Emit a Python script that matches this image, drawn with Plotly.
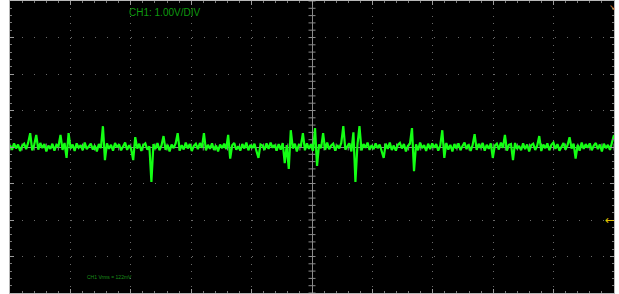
import numpy as np
import plotly.graph_objects as go

# CH1 samples in centivolts (0.01 V), read across the screen left -> right
ch1_cv = [
    5, -8, 10, -4, 7, -11, 3, 9, -6, 12, 38, -9, 6, 33, -7, 11, -3, 8, -12, 4,
    -5, 9, -10, 6, 2, 33, -8, 11, -30, 38, -4, 7, -11, 10, -2, 5, -9, 12, -6, 3,
    9, -7, 4, -12, 8, -3, 57, -36, 10, -5, 6, -10, 11, -1, 7, -9, 3, 12, -8, 5,
    -6, -36, 27, -4, 9, -11, 5, 10, -7, 2, -96, 8, -5, 11, -9, 4, 30, -8, 6, -12,
    7, -3, 10, 38, -10, 5, -7, 12, -4, 8, -11, 3, 9, -6, 11, -2, 38, -9, 6, -5,
    10, -8, 4, -12, 7, -3, 9, -6, 33, -32, 5, 11, -7, 2, -10, 8, -4, 12, -9, 6,
    -3, 9, -11, -30, 7, 4, -8, 10, -5, 12, -2, 6, -10, 8, -7, 11, -44, 5, -60, 46,
    -4, 9, -12, 6, 3, 38, -9, 10, -5, 8, -11, 52, -52, 7, -3, 38, -8, 12, -6, 4,
    9, -10, 5, -4, 11, 57, -7, 3, 10, -12, 40, -96, 6, 57, -9, 8, -2, 12, -8, 5,
    -6, 10, -3, 7, -11, -30, 9, -5, 12, -8, 4, -10, 6, 11, -4, 8, -12, 3, 9, 52,
    -66, 7, -9, 12, -3, 5, -11, 9, -6, 10, -2, 8, -10, 4, 46, -30, 11, -7, 6, -12,
    8, -4, 10, -9, 3, 12, -6, 7, -11, 5, 35, -8, 9, -3, 11, -10, 6, -5, 10, -30,
    4, 9, -7, 12, -2, 33, -10, 6, 8, -36, 11, -5, 3, -9, 10, -6, 7, -12, 5, 9,
    -8, 4, 30, -11, 7, -3, 10, -9, 6, 12, -5, 8, -10, 3, 11, -7, 5, 27, -4, 9,
    -32, 6, -10, 12, -5, 8, -2, 10, -9, 4, 11, -6, 7, -12, 9, -3, 6, -8, 10, 33,
]

h_divs = 10          # horizontal divisions
v_divs = 8           # vertical divisions
volts_per_div = 1.00
scale_label = "CH1: 1.00V/DIV"
meas_label = "CH1 Vrms = 122mV"
trigger_level_v = -2.0

volts = np.array(ch1_cv) / 100.0
t_div = np.linspace(-h_divs / 2, h_divs / 2, len(volts))

minor_x = np.arange(-h_divs / 2, h_divs / 2 + 1e-9, 0.2)
minor_y = np.arange(-v_divs / 2, v_divs / 2 + 1e-9, 0.2)

fig = go.Figure()

# centre graticule tick marks
fig.add_trace(go.Scatter(x=minor_x, y=np.zeros_like(minor_x), mode="markers",
                         marker=dict(symbol="line-ns", size=5,
                                     line=dict(color="#8a8a8a", width=1)),
                         hoverinfo="skip", showlegend=False))
fig.add_trace(go.Scatter(x=np.zeros_like(minor_y), y=minor_y, mode="markers",
                         marker=dict(symbol="line-ew", size=5,
                                     line=dict(color="#8a8a8a", width=1)),
                         hoverinfo="skip", showlegend=False))

# CH1 trace
fig.add_trace(go.Scatter(x=t_div, y=volts, mode="lines",
                         line=dict(color="#14ff14", width=2.2),
                         hoverinfo="skip", showlegend=False))

axis_common = dict(
    showticklabels=False,
    showline=True, linecolor="#b8b8b8", linewidth=1, mirror="ticks",
    ticks="inside", ticklen=4, tickcolor="#9a9a9a",
    zeroline=True, zerolinecolor="#8a8a8a", zerolinewidth=1,
    showgrid=True, gridcolor="#6a6a6a", gridwidth=1,
    minor=dict(ticks="inside", ticklen=2, tickcolor="#7a7a7a", showgrid=False),
    fixedrange=True,
)

fig.update_xaxes(**axis_common, range=[-h_divs / 2, h_divs / 2], dtick=1,
                 griddash="1px,6.3px")
fig.update_xaxes(minor_dtick=0.2)
fig.update_yaxes(**axis_common, range=[-v_divs / 2 * volts_per_div, v_divs / 2 * volts_per_div],
                 dtick=volts_per_div, griddash="1px,11.1px")
fig.update_yaxes(minor_dtick=0.2)

fig.add_annotation(text=scale_label, xref="paper", yref="paper", x=0.255, y=0.985,
                   xanchor="center", yanchor="top", showarrow=False,
                   font=dict(family="Liberation Sans, Arial", size=10, color="#0f9a0f"))
fig.add_annotation(text=meas_label, xref="paper", yref="paper", x=0.165, y=0.055,
                   xanchor="center", yanchor="middle", showarrow=False,
                   font=dict(family="Liberation Sans, Arial", size=5, color="#1a8f1a"))
fig.add_annotation(text="←", xref="paper", yref="y", x=1.005, y=trigger_level_v,
                   xanchor="right", yanchor="middle", showarrow=False,
                   font=dict(family="DejaVu Sans", size=12, color="#e0c000"))
fig.add_annotation(text="↘", xref="paper", yref="paper", x=1.006, y=1.0,
                   xanchor="right", yanchor="top", showarrow=False,
                   font=dict(family="DejaVu Sans", size=8, color="#e09040"))

fig.update_layout(
    width=619, height=294,
    margin=dict(l=10, r=5, t=1, b=1),
    paper_bgcolor="white", plot_bgcolor="black",
    showlegend=False,
)

fig.write_html("out.html", config={"displayModeBar": False},
               post_script="document.body.style.margin='0';document.body.style.overflow='hidden';")
